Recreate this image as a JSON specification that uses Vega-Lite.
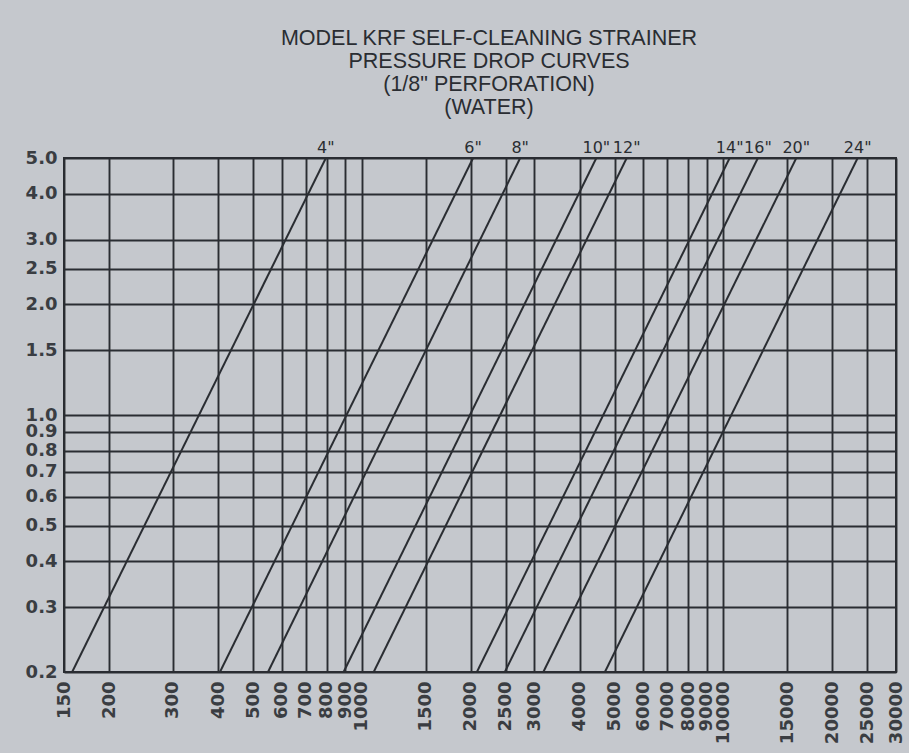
{
  "$schema": "https://vega.github.io/schema/vega-lite/v6.json",
  "autosize": {"type": "none"},
  "width": 832,
  "height": 514,
  "padding": {"left": 64, "top": 158, "right": 13, "bottom": 81},
  "background": "#c5c8cd",
  "title": {
    "text": ["MODEL KRF SELF-CLEANING STRAINER", "PRESSURE DROP CURVES", "(1/8\" PERFORATION)", "(WATER)"],
    "anchor": "middle",
    "frame": "group",
    "font": "Liberation Sans",
    "fontSize": 21.5,
    "fontWeight": "normal",
    "lineHeight": 23,
    "color": "#2a2d32",
    "dx": 9,
    "offset": 22
  },
  "config": {
    "view": {"stroke": "#2a2d32", "strokeWidth": 2, "fill": "#c5c8cd"},
    "axis": {
      "grid": true,
      "gridColor": "#2a2d32",
      "gridOpacity": 1,
      "gridWidth": 1.9,
      "ticks": false,
      "tickSize": 0,
      "domain": false,
      "labelFont": "DejaVu Sans",
      "labelFontSize": 18,
      "labelFontWeight": "bold",
      "labelColor": "#3a3d42",
      "labelOverlap": false,
      "labelBound": false,
      "labelFlush": false,
      "title": null
    }
  },
  "data": {
    "values": [
      {"size": "4\"", "flow": 158, "dp": 0.2},
      {"size": "4\"", "flow": 795, "dp": 5.0},
      {"size": "6\"", "flow": 405, "dp": 0.2},
      {"size": "6\"", "flow": 2030, "dp": 5.0},
      {"size": "8\"", "flow": 550, "dp": 0.2},
      {"size": "8\"", "flow": 2740, "dp": 5.0},
      {"size": "10\"", "flow": 890, "dp": 0.2},
      {"size": "10\"", "flow": 4450, "dp": 5.0},
      {"size": "12\"", "flow": 1078, "dp": 0.2},
      {"size": "12\"", "flow": 5400, "dp": 5.0},
      {"size": "14\"", "flow": 2080, "dp": 0.2},
      {"size": "14\"", "flow": 10400, "dp": 5.0},
      {"size": "16\"", "flow": 2485, "dp": 0.2},
      {"size": "16\"", "flow": 12450, "dp": 5.0},
      {"size": "20\"", "flow": 3175, "dp": 0.2},
      {"size": "20\"", "flow": 15900, "dp": 5.0},
      {"size": "24\"", "flow": 4700, "dp": 0.2},
      {"size": "24\"", "flow": 23500, "dp": 5.0}
    ]
  },
  "encoding": {
    "x": {
      "field": "flow",
      "type": "quantitative",
      "scale": {"type": "log", "domain": [150, 30000], "nice": false},
      "axis": {
        "values": [150, 200, 300, 400, 500, 600, 700, 800, 900, 1000, 1500, 2000, 2500, 3000, 4000, 5000, 6000, 7000, 8000, 9000, 10000, 15000, 20000, 25000, 30000],
        "format": "d",
        "labelAngle": -90,
        "labelPadding": 9,
        "labelAlign": "right",
        "labelBaseline": "middle"
      }
    },
    "y": {
      "field": "dp",
      "type": "quantitative",
      "scale": {"type": "log", "domain": [0.2, 5.0], "nice": false},
      "axis": {
        "values": [0.2, 0.3, 0.4, 0.5, 0.6, 0.7, 0.8, 0.9, 1.0, 1.5, 2.0, 2.5, 3.0, 4.0, 5.0],
        "format": ".1f",
        "labelPadding": 7
      }
    }
  },
  "layer": [
    {
      "mark": {"type": "line", "color": "#2a2d32", "strokeWidth": 2, "clip": true},
      "encoding": {"detail": {"field": "size"}}
    },
    {
      "transform": [{"filter": "datum.dp == 5"}],
      "mark": {"type": "text", "font": "DejaVu Sans", "fontSize": 16, "color": "#2a2d32", "baseline": "alphabetic", "dy": -5, "align": "center"},
      "encoding": {"text": {"field": "size"}}
    }
  ]
}
